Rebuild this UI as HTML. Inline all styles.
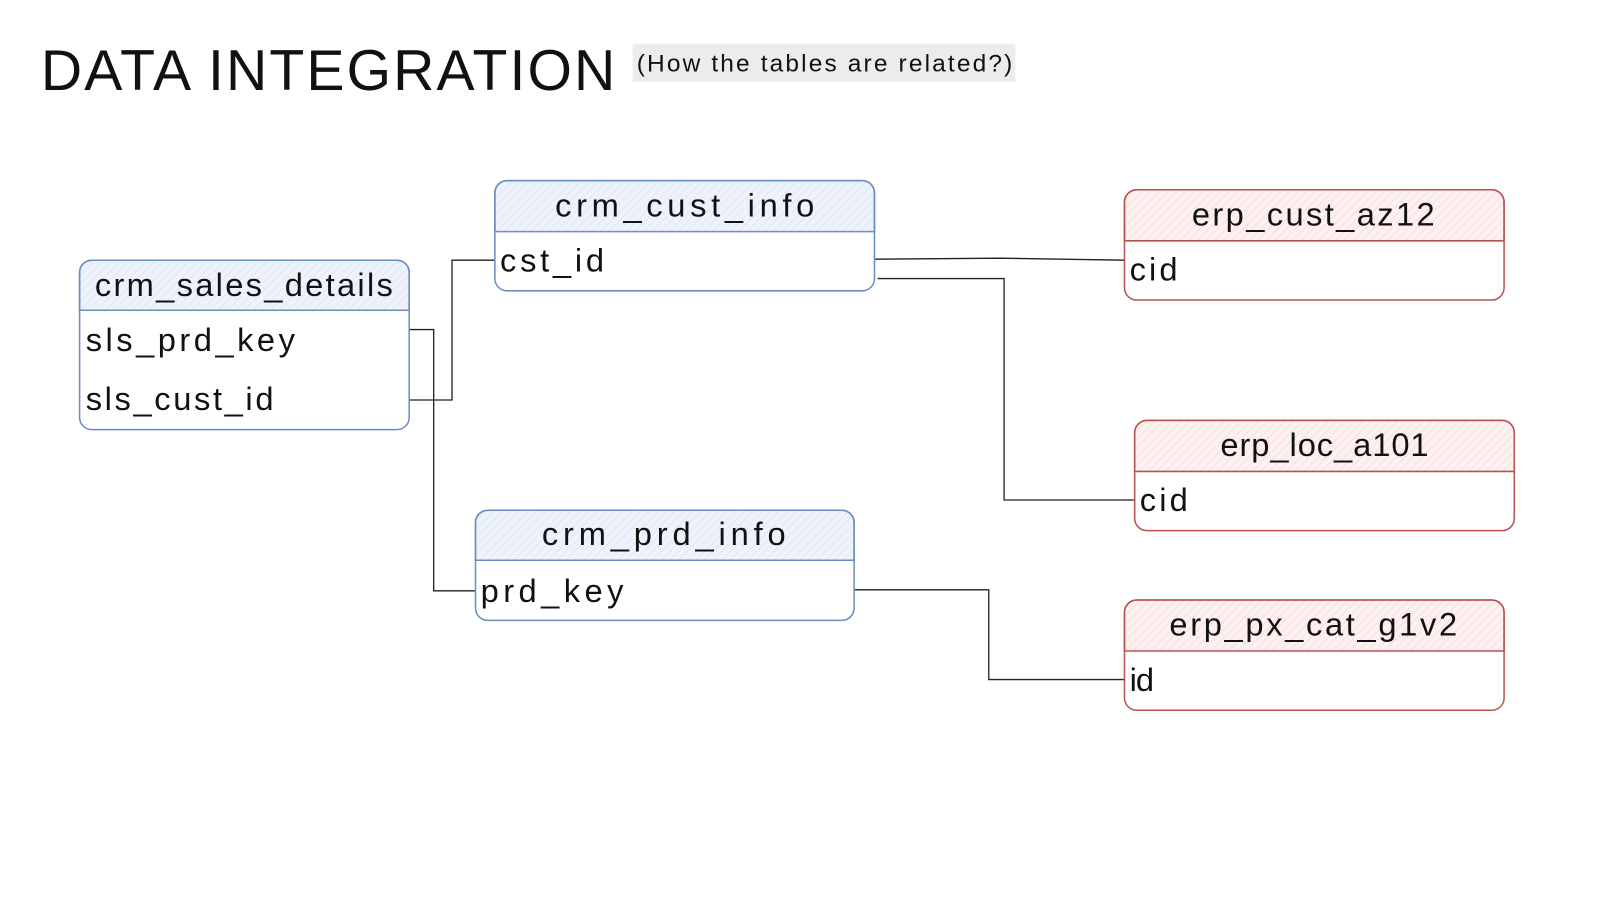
<!DOCTYPE html>
<html><head><meta charset="utf-8"><style>
body{margin:0;background:#fff;width:1600px;height:900px;overflow:hidden}
svg{display:block}
text{font-family:"Liberation Sans",sans-serif;fill:#111}
</style></head><body>
<svg width="1600" height="900" viewBox="0 0 1568 882" xmlns="http://www.w3.org/2000/svg">
<defs>
<pattern id="hb" width="6" height="6" patternUnits="userSpaceOnUse" patternTransform="rotate(45)"><rect width="6" height="6" fill="#eef3fb"/><line x1="0" y1="0" x2="0" y2="6" stroke="#d3def0" stroke-width="1"/></pattern>
<pattern id="hr" width="6" height="6" patternUnits="userSpaceOnUse" patternTransform="rotate(45)"><rect width="6" height="6" fill="#fdf0f0"/><line x1="0" y1="0" x2="0" y2="6" stroke="#f3d0d0" stroke-width="1"/></pattern>
</defs>
<text x="40" y="88" font-size="56" letter-spacing="3" textLength="566">DATA INTEGRATION</text>
<rect x="620" y="43" width="375" height="37" fill="#ececec"/>
<text x="624" y="70" font-size="24" textLength="368">(How the tables are related?)</text>

<g fill="none" stroke="#222" stroke-width="1.3">
<polyline points="401,392 443,392 443,255 485,255"/>
<polyline points="401,323 425,323 425,579 466,579"/>
<polyline points="857,254 980,253 1102,255"/>
<polyline points="860,273 984,273 984,490 1112,490"/>
<polyline points="837,578 969,578 969,666 1102,666"/>
</g>

<g stroke="#6c8ebf" stroke-width="1.5">
<path d="M78,304 V267 a12,12 0 0 1 12,-12 H389 a12,12 0 0 1 12,12 V304 Z" fill="url(#hb)"/>
<rect x="78" y="255" width="323" height="166" rx="12" fill="none"/>
<line x1="78" y1="304" x2="401" y2="304"/>
<path d="M485,227 V189 a12,12 0 0 1 12,-12 H845 a12,12 0 0 1 12,12 V227 Z" fill="url(#hb)"/>
<rect x="485" y="177" width="372" height="108" rx="12" fill="none"/>
<path d="M466,549 V512 a12,12 0 0 1 12,-12 H825 a12,12 0 0 1 12,12 V549 Z" fill="url(#hb)"/>
<rect x="466" y="500" width="371" height="108" rx="12" fill="none"/>
</g>
<g stroke="#b85450" stroke-width="1.5">
<path d="M1102,236 V198 a12,12 0 0 1 12,-12 H1462 a12,12 0 0 1 12,12 V236 Z" fill="url(#hr)"/>
<rect x="1102" y="186" width="372" height="108" rx="12" fill="none"/>
<path d="M1112,462 V424 a12,12 0 0 1 12,-12 H1472 a12,12 0 0 1 12,12 V462 Z" fill="url(#hr)"/>
<rect x="1112" y="412" width="372" height="108" rx="12" fill="none"/>
<path d="M1102,638 V600 a12,12 0 0 1 12,-12 H1462 a12,12 0 0 1 12,12 V638 Z" fill="url(#hr)"/>
<rect x="1102" y="588" width="372" height="108" rx="12" fill="none"/>
</g>

<g font-size="32">
<text x="93" y="290" textLength="292">crm_sales_details</text>
<text x="84" y="344" textLength="205">sls_prd_key</text>
<text x="84" y="402" textLength="184">sls_cust_id</text>
<text x="544" y="212" textLength="254">crm_cust_info</text>
<text x="490" y="266" textLength="102">cst_id</text>
<text x="531" y="534" textLength="239">crm_prd_info</text>
<text x="471" y="590" textLength="140">prd_key</text>
<text x="1168" y="221" textLength="238">erp_cust_az12</text>
<text x="1107" y="275" textLength="47">cid</text>
<text x="1196" y="447" textLength="204">erp_loc_a101</text>
<text x="1117" y="501" textLength="47">cid</text>
<text x="1146" y="623" textLength="282">erp_px_cat_g1v2</text>
<text x="1107" y="677" textLength="24">id</text>
</g>
</svg>
</body></html>
